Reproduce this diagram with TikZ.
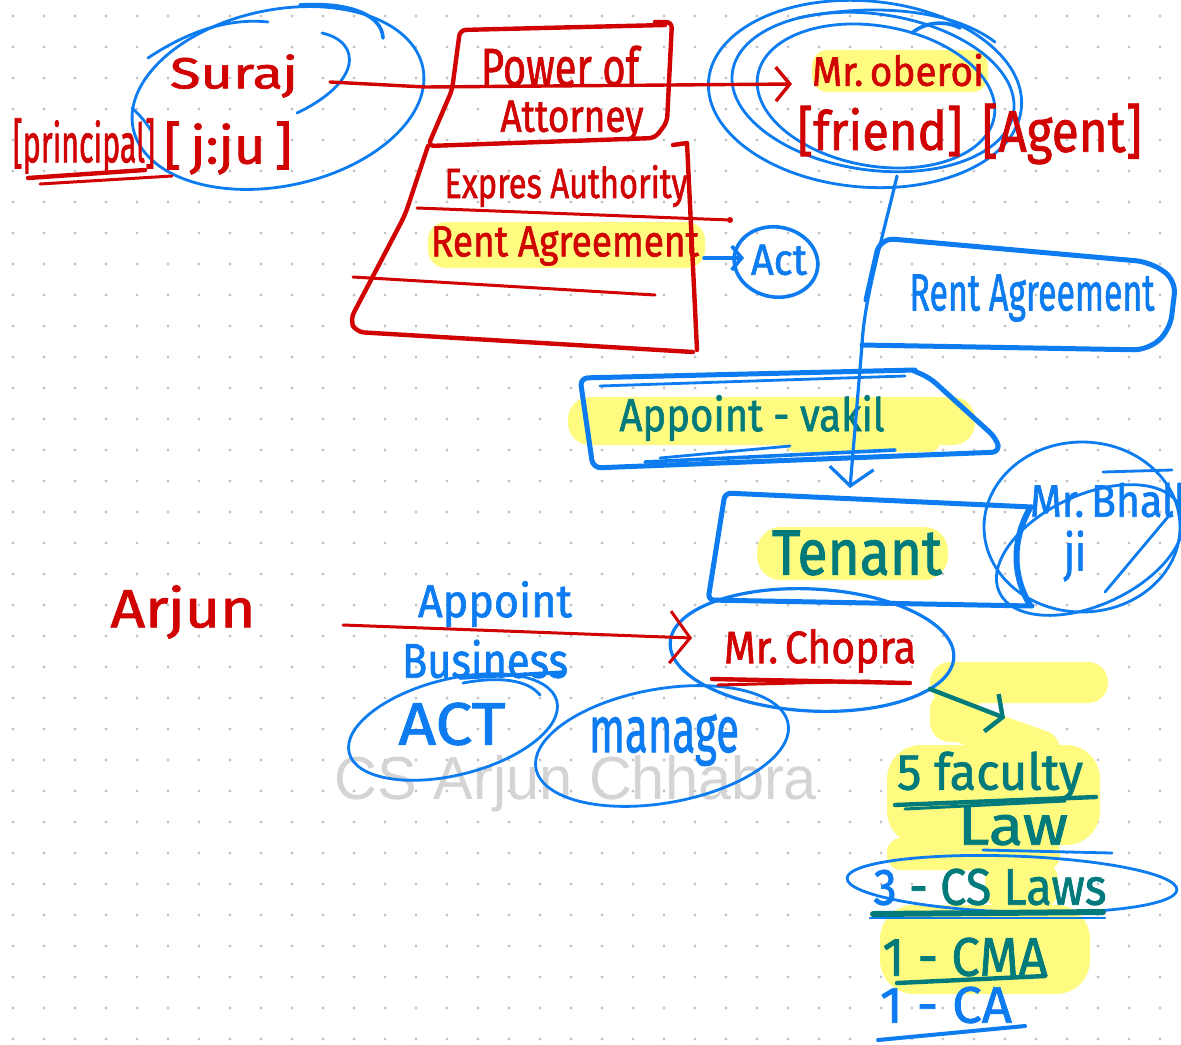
\documentclass[tikz,border=0pt]{standalone}
\usepackage{fontspec}
\setmainfont{Fira Sans}
\newfontfamily\handfont{Fira Sans}[FakeBold=1.5]
\newfontfamily\markfont{Liberation Sans}
\usepackage{graphicx}
\usetikzlibrary{arrows.meta}
\definecolor{inkred}{RGB}{208,2,2}
\definecolor{inkblue}{RGB}{12,124,240}
\definecolor{inkteal}{RGB}{0,122,122}
\definecolor{hilite}{RGB}{255,251,128}
\definecolor{dotgray}{RGB}{196,196,196}
\definecolor{markgray}{RGB}{212,212,212}
\newlength\px
\setlength\px{0.5pt}
% handwritten-looking label, stretched to a given width and height (in px)
\newcommand{\hw}[3]{\resizebox{#1\px}{#2\px}{\handfont #3}}

\begin{document}
\begin{tikzpicture}[x=0.5pt,y=-0.5pt,
  redink/.style={draw=inkred,line width=2.2pt,line cap=round,line join=round},
  redthin/.style={draw=inkred,line width=1.5pt,line cap=round,line join=round},
  blueink/.style={draw=inkblue,line width=1.4pt,line cap=round,line join=round},
  blueheavy/.style={draw=inkblue,line width=2.5pt,line cap=round,line join=round},
  tealink/.style={draw=inkteal,line width=2.2pt,line cap=round,line join=round},
  txt/.style={inner sep=0pt,outer sep=0pt},
  redtxt/.style={txt,text=inkred},
  bluetxt/.style={txt,text=inkblue},
  tealtxt/.style={txt,text=inkteal}]

\useasboundingbox (0,0) rectangle (1181,1044);
\fill[white] (0,0) rectangle (1181,1044);
\clip (0,0) rectangle (1181,1044);

% dotted paper
\foreach \i in {0,...,37}
  \foreach \j in {0,...,33}
    \fill[dotgray] (13+31*\i,16+31*\j) circle[radius=1.7];

% watermark
\node[txt,text=markgray] (mark) at (576,784)
  {\resizebox{482\px}{44\px}{\markfont CS Arjun Chhabra}};

% ---------- highlighter marks ----------
\fill[hilite,rounded corners=9pt] (428,222) rectangle (705,268);
\fill[hilite,rounded corners=8pt] (812,50) rectangle (988,92);
\fill[hilite,rounded corners=11pt] (568,397) rectangle (975,445);
\fill[hilite,rounded corners=5pt] (785,430) rectangle (940,452);
\fill[hilite,rounded corners=12pt] (757,527) rectangle (948,580);
\fill[hilite,rounded corners=10pt] (930,662) rectangle (1108,703);
\fill[hilite,rounded corners=10pt] (930,690) rectangle (980,742);
\draw[draw=hilite,line width=20pt,line cap=round] (960,722) -- (1040,750);
\fill[hilite,rounded corners=17pt] (887,745) rectangle (1100,845);
\fill[hilite,rounded corners=7pt] (887,838) rectangle (1060,870);
\fill[hilite,rounded corners=10pt] (985,860) rectangle (1058,910);
\fill[hilite,rounded corners=17pt] (880,905) rectangle (1090,994);

% ---------- Suraj ----------
\draw[blueink,rotate around={12:(278,98)}] (278,98) ellipse[x radius=148,y radius=88];
\draw[blueink] (148,58) .. controls (190,30) and (230,18) .. (268,22);
\draw[blueheavy,line width=1.8pt] (300,5) .. controls (350,2) and (382,15) .. (383,38);
\draw[blueink] (322,33) .. controls (362,42) and (362,82) .. (297,113);
\draw[blueink] (132,108) .. controls (140,115) and (148,125) .. (152,132);
\node[redtxt] (suraj) at (234,76) {\hw{128}{34}{Suraj}};
\node[redtxt] (jiju) at (228,148) {\hw{128}{42}{[\,j:ju\,]}};
\node[redtxt] (principal) at (84,146) {\hw{142}{44}{[principal]}};
\draw[redink] (28,178) -- (145,170);
\draw[redthin] (40,184) -- (172,176);

% ---------- Power of Attorney sheet ----------
\draw[redink,rounded corners=3pt] (665,25) -- (460,30) -- (452,90) -- (428,146) -- (655,138) -- (667,122) -- (672,22) -- (655,22);
\draw[redink,rounded corners=4pt] (428,146) -- (405,215) -- (350,320) -- (356,332) -- (693,352);
\draw[redink] (673,145) -- (687,143) -- (697,350);
\draw[redthin] (417,208) -- (730,220);
\fill[inkred] (730,220) circle[radius=3];
\draw[redthin] (353,277) -- (655,295);
\node[redtxt] (poa1) at (560,66) {\hw{158}{40}{Power of}};
\node[redtxt] (poa2) at (572,121) {\hw{143}{31}{Attorney}};
\node[redtxt] (express) at (566,186) {\hw{243}{33}{Expres Authority}};
\node[redtxt] (rentred) at (565,246) {\hw{268}{30}{Rent Agreement}};

% Act
\draw[blueheavy,line width=1.8pt,rotate around={-10:(776,262)}] (776,262) ellipse[x radius=42,y radius=35];
\node[bluetxt] (act) at (779,260) {\hw{56}{30}{Act}};
\coordinate (rentout) at (704,258);
\coordinate (actin) at (744,258);
\draw[blueink,line width=1.8pt,-{Straight Barb[length=5pt,width=12pt]}] (rentout) -- (actin);

% ---------- Mr. Oberoi ----------
\draw[blueink,rotate around={-5:(865,94)}] (865,94) ellipse[x radius=157,y radius=93];
\draw[blueink,rotate around={-8:(873,92)}] (873,92) ellipse[x radius=142,y radius=78];
\draw[blueink,rotate around={-10:(876,96)}] (876,96) ellipse[x radius=120,y radius=70];
\draw[blueink] (798,18) .. controls (870,3) and (950,8) .. (995,42);
\draw[blueheavy,line width=1.8pt] (912,33) .. controls (925,22) and (945,20) .. (960,28);
\node[redtxt] (oberoi) at (898,70) {\hw{172}{32}{Mr.\,oberoi}};
\node[redtxt] (friend) at (880,131) {\hw{165}{44}{[friend]}};
\node[redtxt] (agent) at (1062,134) {\hw{160}{48}{[Agent]}};
\coordinate (surajout) at (330,82);
\coordinate (oberoiin) at (792,84);
\draw[redthin,line width=1.7pt,-{Straight Barb[length=7pt,width=17pt]}] (surajout) -- (425,87) -- (oberoiin);

% ---------- Rent Agreement box ----------
\draw[blueheavy,rounded corners=7pt] (866,300) -- (880,238) -- (1150,262) -- (1176,280) -- (1170,330) -- (1148,350) -- (862,345);
\node[bluetxt] (rentblue) at (1032,298) {\hw{245}{36}{Rent Agreement}};

% ---------- Appoint - vakil box ----------
\draw[blueheavy,rounded corners=4pt] (915,370) -- (580,378) -- (593,468) -- (1000,452) -- (996,438) -- (930,378) -- (912,370);
\draw[blueink] (600,386) -- (905,376);
\node[tealtxt] (vakil) at (752,418) {\hw{265}{36}{Appoint - vakil}};
\draw[blueheavy,line width=1.8pt] (645,462) -- (895,450);
\draw[blueink] (660,458) -- (790,446);

% connector from Mr. Oberoi down to Tenant
\coordinate (oberoiout) at (897,176);
\coordinate (tenantin) at (850,488);
\draw[blueink,line width=1.6pt,-{Straight Barb[length=9pt,width=22pt]}] (oberoiout) .. controls (882,240) and (864,300) .. (862,345) -- (tenantin);

% ---------- Tenant ----------
\draw[blueheavy,rounded corners=3pt] (1032,507) -- (725,493) -- (708,600) -- (1032,606);
\draw[blueheavy,line width=3pt] (1030,508) .. controls (1012,540) and (1012,575) .. (1030,605);
\node[tealtxt] (tenant) at (857,553) {\hw{170}{44}{Tenant}};

% Mr. Bhalla ji
\draw[blueink] (1082,527) ellipse[x radius=98,y radius=85];
\draw[blueink,rotate around={25:(1090,550)}] (1090,550) ellipse[x radius=100,y radius=55];
\draw[blueink] (1105,592) -- (1172,512);
\draw[blueink] (1103,472) -- (1172,470);
\node[bluetxt,anchor=west] (bhalla) at (1030,500) {\hw{178}{34}{Mr.\,Bhalla}};
\node[bluetxt] (ji) at (1075,556) {\hw{22}{40}{ji}};

% ---------- Arjun ----------
\node[redtxt] (arjun) at (183,612) {\hw{145}{42}{Arjun}};
\node[bluetxt] (appoint) at (495,604) {\hw{154}{36}{Appoint}};
\node[bluetxt] (business) at (485,659) {\hw{166}{38}{Business}};
\draw[blueink,line width=1.8pt] (460,678) -- (565,672);

% ACT and manage
\draw[blueink,rotate around={14:(453,727)}] (453,727) ellipse[x radius=107,y radius=48];
\draw[blueink] (463,683) .. controls (500,676) and (528,680) .. (540,695);
\node[bluetxt] (act2) at (452,724) {\hw{107}{42}{ACT}};
\draw[blueink,rotate around={10:(662,746)}] (662,746) ellipse[x radius=128,y radius=57];
\node[bluetxt] (manage) at (664,740) {\hw{150}{38}{manage}};

% Mr. Chopra
\draw[blueink,line width=1.6pt,rotate around={-3:(812,650)}] (812,650) ellipse[x radius=142,y radius=61];
\node[redtxt] (chopra) at (820,651) {\hw{192}{34}{Mr.\,Chopra}};
\draw[redink] (712,679) -- (910,683);
\draw[redthin] (718,685) -- (870,681);
\coordinate (arjunout) at (343,625);
\coordinate (chopraIn) at (692,638);
\draw[redthin,-{Straight Barb[length=10pt,width=26pt]}] (arjunout) -- (chopraIn);

% faculty list
\coordinate (chopraout) at (930,689);
\coordinate (listin) at (1005,718);
\draw[tealink,-{Straight Barb[length=6pt,width=20pt]}] (chopraout) -- (listin);
\node[tealtxt] (faculty) at (990,776) {\hw{186}{38}{5 faculty}};
\draw[tealink] (895,805) -- (1096,797);
\draw[tealink,line width=1.5pt] (905,809) -- (1065,801);
\node[tealtxt] (law) at (1013,826) {\hw{110}{38}{Law}};
\draw[blueink,rotate around={-2:(1012,884)}] (1012,884) ellipse[x radius=165,y radius=28];
\draw[blueink] (983,850) -- (1112,853);
\node[tealtxt] (cs) at (990,887) {\hw{233}{36}{\textcolor{inkblue}{3} - CS Laws}};
\draw[tealink,line width=3pt] (873,914) -- (1103,912);
\draw[blueink] (870,918) -- (1105,918);
\node[tealtxt] (cma) at (965,957) {\hw{165}{38}{1 - CMA}};
\draw[tealink] (897,983) -- (1045,976);
\node[bluetxt] (ca) at (946,1005) {\hw{132}{36}{1 - CA}};
\draw[blueheavy,line width=2pt] (878,1040) -- (1025,1026);

\end{tikzpicture}
\end{document}
